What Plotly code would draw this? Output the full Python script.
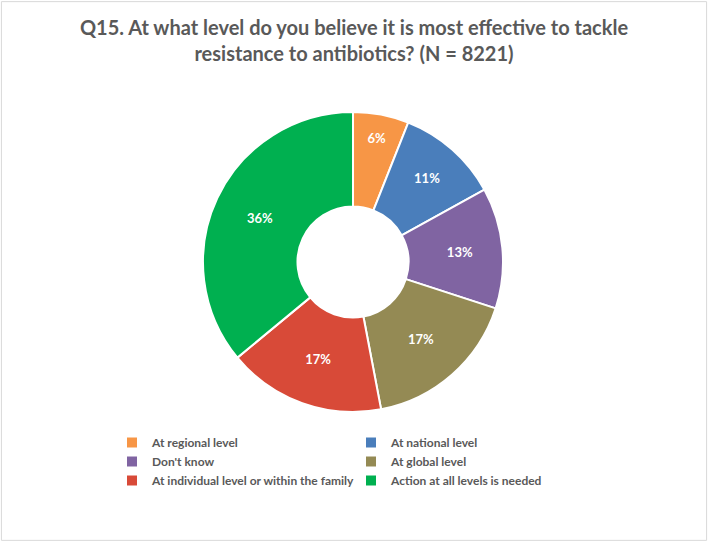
import plotly.graph_objects as go

labels = ["At regional level", "At national level", "Don't know",
          "At global level", "At individual level or within the family",
          "Action at all levels is needed"]
values = [6, 11, 13, 17, 17, 36]
colors = ["#F79646", "#4A7EBB", "#8064A2", "#948A54", "#D84A38", "#00B050"]

FONT = "Lato"
GREY = "#595959"

fig = go.Figure(go.Pie(
    labels=labels,
    values=values,
    hole=0.37,
    sort=False,
    direction="clockwise",
    rotation=0,
    marker=dict(colors=colors, line=dict(color="white", width=2)),
    texttemplate="%{value}%",
    textposition="inside",
    insidetextorientation="horizontal",
    insidetextfont=dict(family=FONT, size=13, color="white", weight="bold"),
    domain=dict(x=[203 / 708, 503 / 708], y=[130 / 542, 430 / 542]),
))

fig.update_layout(
    width=708, height=542,
    margin=dict(l=0, r=0, t=0, b=0, autoexpand=False),
    paper_bgcolor="white",
    font=dict(family=FONT, color=GREY),
    title=dict(
        text="Q15. At what level do you believe it is most effective to tackle<br>"
             "resistance to antibiotics? (N = 8221)",
        x=0.5, xanchor="center", y=0.935, yanchor="top",
        font=dict(family=FONT, size=20, color=GREY, weight="bold"),
    ),
    legend=dict(
        orientation="h",
        x=112 / 708, xanchor="left",
        y=1 - 428 / 542, yanchor="top",
        entrywidth=194, entrywidthmode="pixels",
        font=dict(family=FONT, size=12, color=GREY, weight="bold"),
        itemwidth=30,
    ),
    shapes=[dict(type="rect", xref="paper", yref="paper",
                 x0=0.002, x1=0.998, y0=0.003, y1=0.997,
                 line=dict(color="#D9D9D9", width=1))],
)

fig.write_html("out.html", config={"displayModeBar": False},
               post_script="document.body.style.margin='0';")
